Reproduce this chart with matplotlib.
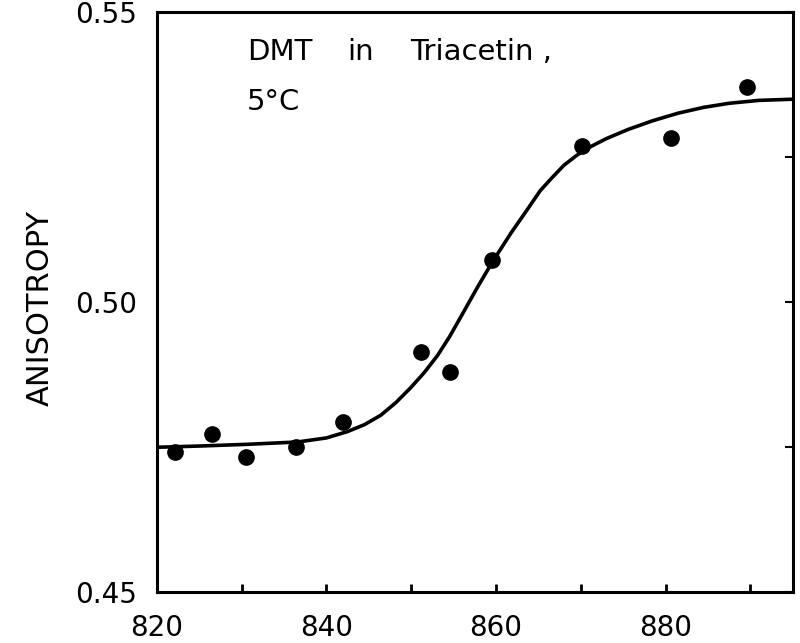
import matplotlib
matplotlib.use('Agg')
from matplotlib import pyplot as plt

# measured points (wavelength, anisotropy)
wavelength = [822.1, 826.5, 830.5, 836.4, 841.9, 851.2, 854.6, 859.5, 870.2, 880.6, 889.6]
anisotropy = [0.4741, 0.4772, 0.4733, 0.4750, 0.4793, 0.4914, 0.4879, 0.5072, 0.5269, 0.5283, 0.5371]

# fitted curve
fit_x = [820.2, 825.0, 830.7, 836.6, 840.0, 842.5, 844.5, 846.4, 848.2, 849.9, 851.5, 853.1,
         854.5, 855.9, 857.9, 859.6, 861.8, 863.8, 865.2, 866.5, 868.0, 869.5, 871.0, 873.0,
         875.6, 878.5, 881.5, 884.5, 887.5, 891.0, 895.0]
fit_y = [0.4750, 0.4752, 0.4755, 0.4759, 0.4766, 0.4777, 0.4789, 0.4805, 0.4827, 0.4852, 0.4878, 0.4908,
         0.4940, 0.4976, 0.5028, 0.5070, 0.5120, 0.5162, 0.5192, 0.5213, 0.5236, 0.5253, 0.5267, 0.5282,
         0.5298, 0.5313, 0.5326, 0.5336, 0.5343, 0.5348, 0.5350]

x_ticks = [820, 830, 840, 850, 860, 870, 880, 890]
x_labels = ['820', '', '840', '', '860', '', '880', '']
y_ticks = [0.45, 0.475, 0.50, 0.525, 0.55]
y_labels = ['0.45', '', '0.50', '', '0.55']

title_words = ['DMT', 'in', 'Triacetin ,']
title_word_x = [0.1415, 0.299, 0.398]  # axes fraction, left edge of each word

fig = plt.figure(figsize=(8, 6.43), dpi=100)
ax = fig.add_axes([0.196, 0.079, 0.795, 0.902])

ax.plot(fit_x, fit_y, color='black', linewidth=2.6, solid_capstyle='round',
        solid_joinstyle='round')
ax.plot(wavelength, anisotropy, 'o', color='black', markersize=11)

ax.set_xlim(820, 895)
ax.set_ylim(0.45, 0.55)
ax.set_xticks(x_ticks)
ax.set_xticklabels(x_labels)
ax.set_yticks(y_ticks)
ax.set_yticklabels(y_labels)

for spine in ax.spines.values():
    spine.set_linewidth(2.2)

ax.tick_params(axis='x', direction='in', length=6, width=2, labelsize=20, pad=16)
ax.tick_params(axis='y', direction='in', length=6, width=1.5, labelsize=20, pad=14,
               left=False, right=True)

ax.set_ylabel('ANISOTROPY', fontsize=22)
ax.yaxis.set_label_coords(-0.16, 0.49)

for word, wx in zip(title_words, title_word_x):
    ax.text(wx, 0.955, word, transform=ax.transAxes, fontsize=21, ha='left', va='top')
ax.text(0.1415, 0.87, '5°C', transform=ax.transAxes, fontsize=21, ha='left', va='top')

plt.savefig('out.png', dpi=100)
plt.close(fig)
